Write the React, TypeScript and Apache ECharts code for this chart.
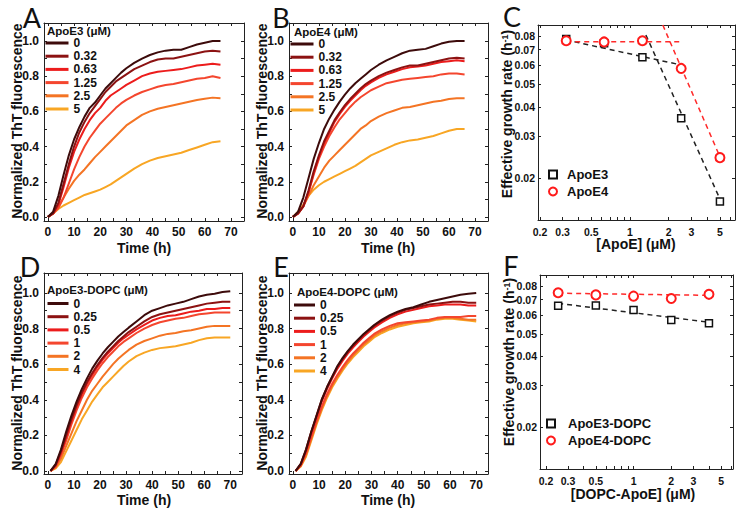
import React, { useEffect, useRef } from 'react';
import * as echarts from 'echarts';

const FONT = '"Liberation Sans", Arial, Helvetica, sans-serif';

// ---------- Time-course data (panels A, B) ----------
const timeAB = [0, 2, 4, 6, 8, 10, 12, 14, 16, 18, 20, 22, 24, 26, 28, 30, 33, 36, 39, 42, 45, 48, 51, 54, 57, 60, 63, 66];
const concAB = ['0', '0.32', '0.63', '1.25', '2.5', '5'];

const A_0 = [0, 0.03, 0.12, 0.24, 0.35, 0.44, 0.51, 0.57, 0.62, 0.65, 0.69, 0.73, 0.76, 0.79, 0.82, 0.845, 0.875, 0.9, 0.92, 0.935, 0.945, 0.95, 0.95, 0.965, 0.98, 0.99, 1.0, 1.0];
const A_032 = [0, 0.02, 0.08, 0.19, 0.3, 0.4, 0.48, 0.54, 0.59, 0.63, 0.67, 0.71, 0.74, 0.77, 0.79, 0.81, 0.84, 0.86, 0.88, 0.895, 0.9, 0.9, 0.91, 0.92, 0.93, 0.94, 0.945, 0.94];
const A_063 = [0, 0.02, 0.07, 0.17, 0.28, 0.37, 0.44, 0.5, 0.55, 0.59, 0.62, 0.66, 0.69, 0.71, 0.73, 0.75, 0.775, 0.8, 0.815, 0.825, 0.83, 0.835, 0.84, 0.85, 0.86, 0.865, 0.87, 0.865];
const A_125 = [0, 0.02, 0.05, 0.11, 0.19, 0.27, 0.34, 0.4, 0.45, 0.49, 0.53, 0.56, 0.59, 0.62, 0.645, 0.665, 0.69, 0.71, 0.725, 0.74, 0.75, 0.755, 0.765, 0.775, 0.785, 0.79, 0.8, 0.79];
const A_25 = [0, 0.02, 0.06, 0.11, 0.16, 0.205, 0.24, 0.27, 0.305, 0.34, 0.37, 0.4, 0.43, 0.46, 0.49, 0.52, 0.55, 0.58, 0.6, 0.615, 0.625, 0.635, 0.645, 0.655, 0.665, 0.672, 0.678, 0.675];
const A_5 = [0, 0.02, 0.045, 0.065, 0.08, 0.095, 0.11, 0.125, 0.135, 0.145, 0.155, 0.17, 0.185, 0.205, 0.225, 0.245, 0.275, 0.3, 0.32, 0.335, 0.345, 0.355, 0.365, 0.38, 0.395, 0.41, 0.425, 0.43];

const B_0 = [0, 0.03, 0.11, 0.22, 0.33, 0.42, 0.5, 0.56, 0.61, 0.655, 0.695, 0.73, 0.76, 0.785, 0.81, 0.835, 0.865, 0.89, 0.91, 0.93, 0.945, 0.95, 0.955, 0.97, 0.985, 0.995, 1.0, 1.0];
const B_032 = [0, 0.02, 0.06, 0.15, 0.26, 0.35, 0.43, 0.49, 0.55, 0.595, 0.635, 0.67, 0.7, 0.73, 0.755, 0.775, 0.8, 0.82, 0.835, 0.85, 0.86, 0.86, 0.87, 0.88, 0.89, 0.9, 0.905, 0.9];
const B_063 = [0, 0.02, 0.06, 0.14, 0.25, 0.34, 0.42, 0.48, 0.54, 0.585, 0.625, 0.66, 0.69, 0.72, 0.745, 0.765, 0.79, 0.81, 0.825, 0.84, 0.85, 0.855, 0.86, 0.87, 0.88, 0.885, 0.89, 0.885];
const B_125 = [0, 0.02, 0.06, 0.14, 0.24, 0.33, 0.4, 0.46, 0.51, 0.555, 0.59, 0.625, 0.655, 0.68, 0.7, 0.72, 0.74, 0.76, 0.77, 0.78, 0.785, 0.79, 0.795, 0.8, 0.81, 0.815, 0.815, 0.81];
const B_25 = [0, 0.02, 0.06, 0.12, 0.18, 0.23, 0.28, 0.32, 0.35, 0.38, 0.41, 0.44, 0.47, 0.5, 0.52, 0.545, 0.57, 0.59, 0.605, 0.62, 0.625, 0.635, 0.645, 0.655, 0.66, 0.67, 0.675, 0.675];
const B_5 = [0, 0.03, 0.07, 0.12, 0.155, 0.18, 0.2, 0.215, 0.23, 0.245, 0.26, 0.275, 0.29, 0.31, 0.33, 0.35, 0.37, 0.39, 0.41, 0.425, 0.435, 0.44, 0.45, 0.46, 0.475, 0.49, 0.5, 0.5];

// ---------- Time-course data (panels D, E) ----------
const timeDE = [1, 3, 5, 7, 9, 11, 13, 15, 17, 19, 21, 23, 25, 27, 29, 31, 34, 37, 40, 43, 46, 49, 52, 55, 58, 61, 64, 67, 70];
const concDE = ['0', '0.25', '0.5', '1', '2', '4'];

const D_0 = [0, 0.04, 0.12, 0.22, 0.31, 0.39, 0.46, 0.52, 0.575, 0.62, 0.66, 0.695, 0.725, 0.755, 0.78, 0.805, 0.84, 0.875, 0.9, 0.915, 0.93, 0.94, 0.95, 0.965, 0.98, 0.99, 0.995, 1.005, 1.01];
const D_025 = [0, 0.035, 0.11, 0.2, 0.29, 0.37, 0.44, 0.5, 0.55, 0.595, 0.635, 0.67, 0.7, 0.73, 0.755, 0.78, 0.81, 0.84, 0.865, 0.88, 0.89, 0.9, 0.91, 0.92, 0.93, 0.94, 0.945, 0.95, 0.95];
const D_05 = [0, 0.03, 0.1, 0.19, 0.28, 0.36, 0.43, 0.49, 0.54, 0.585, 0.625, 0.66, 0.69, 0.72, 0.745, 0.765, 0.795, 0.82, 0.845, 0.86, 0.87, 0.875, 0.885, 0.895, 0.9, 0.91, 0.91, 0.915, 0.915];
const D_1 = [0, 0.025, 0.09, 0.17, 0.26, 0.34, 0.41, 0.47, 0.52, 0.565, 0.605, 0.64, 0.67, 0.7, 0.725, 0.745, 0.775, 0.8, 0.82, 0.835, 0.845, 0.855, 0.86, 0.87, 0.88, 0.885, 0.89, 0.89, 0.89];
const D_2 = [0, 0.02, 0.07, 0.14, 0.21, 0.28, 0.34, 0.4, 0.45, 0.49, 0.53, 0.565, 0.6, 0.63, 0.655, 0.68, 0.71, 0.73, 0.745, 0.76, 0.77, 0.775, 0.785, 0.79, 0.8, 0.81, 0.815, 0.815, 0.815];
const D_4 = [0, 0.015, 0.05, 0.11, 0.17, 0.23, 0.29, 0.34, 0.39, 0.43, 0.47, 0.5, 0.53, 0.56, 0.59, 0.615, 0.645, 0.665, 0.68, 0.69, 0.695, 0.7, 0.71, 0.72, 0.735, 0.745, 0.75, 0.75, 0.75];

const E_0 = [0, 0.04, 0.12, 0.22, 0.31, 0.4, 0.47, 0.53, 0.59, 0.635, 0.675, 0.71, 0.74, 0.77, 0.795, 0.82, 0.85, 0.875, 0.895, 0.91, 0.92, 0.935, 0.95, 0.96, 0.97, 0.98, 0.99, 0.995, 1.0];
const E_025 = [0, 0.04, 0.12, 0.22, 0.31, 0.4, 0.47, 0.53, 0.585, 0.63, 0.67, 0.705, 0.735, 0.765, 0.79, 0.815, 0.845, 0.87, 0.89, 0.905, 0.915, 0.925, 0.935, 0.94, 0.945, 0.95, 0.95, 0.945, 0.945];
const E_05 = [0, 0.035, 0.11, 0.21, 0.3, 0.39, 0.46, 0.52, 0.575, 0.62, 0.66, 0.695, 0.725, 0.755, 0.78, 0.805, 0.835, 0.86, 0.88, 0.895, 0.905, 0.915, 0.925, 0.93, 0.935, 0.935, 0.935, 0.93, 0.93];
const E_1 = [0, 0.03, 0.1, 0.19, 0.28, 0.36, 0.43, 0.49, 0.54, 0.585, 0.625, 0.66, 0.69, 0.72, 0.745, 0.77, 0.795, 0.815, 0.83, 0.835, 0.84, 0.845, 0.85, 0.86, 0.865, 0.865, 0.865, 0.87, 0.87];
const E_2 = [0, 0.03, 0.09, 0.18, 0.27, 0.35, 0.42, 0.48, 0.53, 0.575, 0.615, 0.65, 0.68, 0.71, 0.735, 0.76, 0.785, 0.805, 0.82, 0.83, 0.835, 0.84, 0.845, 0.855, 0.86, 0.86, 0.855, 0.85, 0.85];
const E_4 = [0, 0.025, 0.08, 0.17, 0.26, 0.34, 0.41, 0.47, 0.52, 0.565, 0.605, 0.64, 0.67, 0.7, 0.725, 0.75, 0.775, 0.795, 0.81, 0.82, 0.83, 0.835, 0.84, 0.85, 0.855, 0.855, 0.85, 0.845, 0.84];

const curveColors = ['#3d0b0b', '#8c1212', '#ec1c1c', '#f4462e', '#f47424', '#f8a624'];

// ---------- Growth-rate data (panel C) ----------
const concC_E3 = [0.32, 0.63, 1.25, 2.5, 5];
const rateC_E3 = [0.0777, 0.0745, 0.065, 0.0358, 0.0159];
const concC_E4 = [0.32, 0.63, 1.25, 2.5, 5];
const rateC_E4 = [0.0764, 0.0755, 0.0764, 0.0583, 0.0244];
const fitC_E3_a = [[0.317, 0.077], [2.6, 0.06]];
const fitC_E3_b = [[1.33, 0.0808], [4.9, 0.0167]];
const fitC_E4_a = [[0.32, 0.0757], [2.56, 0.0757]];
const fitC_E4_b = [[1.8, 0.089], [5.0, 0.0246]];

// ---------- Growth-rate data (panel F) ----------
const concF = [0.25, 0.5, 1, 2, 4];
const rateF_E3 = [0.0659, 0.066, 0.0632, 0.0573, 0.0554];
const rateF_E4 = [0.0749, 0.0733, 0.0724, 0.0707, 0.0737];
const fitF_E3 = [[0.25, 0.0675], [4, 0.056]];
const fitF_E4 = [[0.25, 0.0745], [4, 0.073]];

// ---------- Tick values ----------
const timeTicks = [0, 5, 10, 15, 20, 25, 30, 35, 40, 45, 50, 55, 60, 65, 70];
const timeLabels = [0, 10, 20, 30, 40, 50, 60, 70];
const fluoTicks = [0, 0.1, 0.2, 0.3, 0.4, 0.5, 0.6, 0.7, 0.8, 0.9, 1.0];
const fluoLabels = [0, 0.2, 0.4, 0.6, 0.8, 1.0];
const concTicks = [0.2, 0.3, 0.4, 0.5, 0.6, 0.7, 0.8, 0.9, 1, 2, 3, 4, 5, 6];
const concLabels = [0.2, 0.3, 0.5, 1, 2, 3, 5];
const rateTicks = [0.02, 0.03, 0.04, 0.05, 0.06, 0.07, 0.08];
const rateLabels = [0.02, 0.03, 0.04, 0.05, 0.06, 0.07, 0.08];

const lg = (v: number) => Math.log10(v);

type Spec = { min: number; max: number; ticks: number[]; labels: number[]; fmt: (v: number) => string; margin: number; size: number };

function axisPair(gridIndex: number, dim: 'x' | 'y', s: Spec) {
  const common: any = {
    type: 'value',
    gridIndex,
    min: s.min,
    max: s.max,
    splitLine: { show: false },
    axisLine: { show: true, onZero: false, lineStyle: { color: '#222', width: 1 } },
    axisTick: { show: true, inside: true, length: 3, customValues: s.ticks, lineStyle: { color: '#222', width: 1 } },
  };
  const main = {
    ...common,
    position: dim === 'x' ? 'bottom' : 'left',
    axisLabel: {
      show: true,
      customValues: s.labels,
      formatter: s.fmt,
      margin: s.margin,
      fontFamily: FONT,
      fontWeight: 'bold',
      fontSize: s.size,
      color: '#111',
    },
  };
  const mirror = { ...common, position: dim === 'x' ? 'top' : 'right', axisLabel: { show: false } };
  return [main, mirror];
}

const fmtTime = (v: number) => String(Math.round(v));
const fmtFluo = (v: number) => v.toFixed(1);
const fmtConc = (v: number) => {
  const r = Math.pow(10, v);
  return r < 1 ? r.toFixed(1) : String(Math.round(r));
};
const fmtRate = (v: number) => Math.pow(10, v).toFixed(2);

export default function App() {
  const ref = useRef<HTMLDivElement>(null);

  useEffect(() => {
    if (!ref.current) return;
    const chart = echarts.init(ref.current, null, { renderer: 'svg' });

    const grids = [
      { left: 44, top: 23, width: 200, height: 198 },
      { left: 289, top: 23, width: 199, height: 198 },
      { left: 538, top: 25, width: 197, height: 195 },
      { left: 44, top: 273, width: 198, height: 201 },
      { left: 289, top: 273, width: 199, height: 201 },
      { left: 540, top: 275, width: 193, height: 194 },
    ];

    const tAB: Spec = { min: -1.5, max: 75, ticks: timeTicks, labels: timeLabels, fmt: fmtTime, margin: 5, size: 12 };
    const tDE: Spec = { min: -1.5, max: 74.5, ticks: timeTicks, labels: timeLabels, fmt: fmtTime, margin: 5, size: 12 };
    const fAB: Spec = { min: -0.023, max: 1.102, ticks: fluoTicks, labels: fluoLabels, fmt: fmtFluo, margin: 5, size: 12 };
    const fDE: Spec = { min: -0.017, max: 1.112, ticks: fluoTicks, labels: fluoLabels, fmt: fmtFluo, margin: 5, size: 12 };
    const cC: Spec = { min: -0.714, max: 0.816, ticks: concTicks.map(lg), labels: concLabels.map(lg), fmt: fmtConc, margin: 6, size: 10.5 };
    const rC: Spec = { min: -1.877, max: -1.0503, ticks: rateTicks.map(lg), labels: rateLabels.map(lg), fmt: fmtRate, margin: 3, size: 10.5 };
    const cF: Spec = { min: -0.747, max: 0.794, ticks: concTicks.map(lg), labels: concLabels.map(lg), fmt: fmtConc, margin: 6, size: 10.5 };
    const rF: Spec = { min: -1.879, max: -1.0499, ticks: rateTicks.map(lg), labels: rateLabels.map(lg), fmt: fmtRate, margin: 3, size: 10.5 };

    const xSpecs = [tAB, tAB, cC, tDE, tDE, cF];
    const ySpecs = [fAB, fAB, rC, fDE, fDE, rF];
    const xAxis: any[] = [];
    const yAxis: any[] = [];
    xSpecs.forEach((s, i) => xAxis.push(...axisPair(i, 'x', s)));
    ySpecs.forEach((s, i) => yAxis.push(...axisPair(i, 'y', s)));

    const timePanels = [
      { key: 'A', grid: 0, times: timeAB, concs: concAB, values: [A_0, A_032, A_063, A_125, A_25, A_5] },
      { key: 'B', grid: 1, times: timeAB, concs: concAB, values: [B_0, B_032, B_063, B_125, B_25, B_5] },
      { key: 'D', grid: 3, times: timeDE, concs: concDE, values: [D_0, D_025, D_05, D_1, D_2, D_4] },
      { key: 'E', grid: 4, times: timeDE, concs: concDE, values: [E_0, E_025, E_05, E_1, E_2, E_4] },
    ];

    const series: any[] = [];
    timePanels.forEach((p) => {
      p.values.forEach((vals, k) => {
        const color = curveColors[k];
        series.push({
          type: 'line',
          name: `${p.key}|${p.concs[k]}`,
          xAxisIndex: 2 * p.grid,
          yAxisIndex: 2 * p.grid,
          data: p.times.map((t, i) => [t, vals[i]]),
          showSymbol: false,
          symbol: 'none',
          silent: true,
          z: 10 - k,
          lineStyle: { width: 2, color },
          itemStyle: { color },
        });
      });
    });

    const fitLine = (data: number[][], grid: number, color: string) => ({
      type: 'line',
      xAxisIndex: 2 * grid,
      yAxisIndex: 2 * grid,
      data: data.map((d) => [lg(d[0]), lg(d[1])]),
      symbol: 'none',
      silent: true,
      clip: true,
      z: 3,
      lineStyle: { width: 1.5, color, type: [5, 4] },
    });
    const squares = (name: string, xs: number[], ys: number[], grid: number) => ({
      type: 'scatter',
      name,
      xAxisIndex: 2 * grid,
      yAxisIndex: 2 * grid,
      data: xs.map((x, i) => [lg(x), lg(ys[i])]),
      symbol: 'rect',
      symbolSize: 7,
      silent: true,
      z: 4,
      itemStyle: { color: '#ffffff', borderColor: '#111', borderWidth: 1.5, opacity: 1 },
    });
    const circles = (name: string, xs: number[], ys: number[], grid: number) => ({
      type: 'scatter',
      name,
      xAxisIndex: 2 * grid,
      yAxisIndex: 2 * grid,
      data: xs.map((x, i) => [lg(x), lg(ys[i])]),
      symbol: 'circle',
      symbolSize: 9,
      silent: true,
      z: 5,
      itemStyle: { color: '#ffffff', borderColor: '#ff1a1a', borderWidth: 2, opacity: 1 },
    });

    series.push(fitLine(fitC_E3_a, 2, '#222'));
    series.push(fitLine(fitC_E3_b, 2, '#222'));
    series.push(fitLine(fitC_E4_a, 2, '#ff2a2a'));
    series.push(fitLine(fitC_E4_b, 2, '#ff2a2a'));
    series.push(squares('C|ApoE3', concC_E3, rateC_E3, 2));
    series.push(circles('C|ApoE4', concC_E4, rateC_E4, 2));
    series.push(fitLine(fitF_E3, 5, '#222'));
    series.push(fitLine(fitF_E4, 5, '#ff2a2a'));
    series.push(squares('F|ApoE3-DOPC', concF, rateF_E3, 5));
    series.push(circles('F|ApoE4-DOPC', concF, rateF_E4, 5));

    const legendText = { fontFamily: FONT, fontWeight: 'bold', fontSize: 12, color: '#111' };
    const stripName = (n: string) => n.split('|')[1];
    const lineLegend = (p: any, left: number, top: number, itemWidth: number) => ({
      orient: 'vertical',
      left,
      top,
      padding: 0,
      itemGap: 1.2,
      itemWidth,
      itemHeight: 3,
      icon: 'rect',
      selectedMode: false,
      data: p.concs.map((c: string) => `${p.key}|${c}`),
      formatter: stripName,
      textStyle: legendText,
    });
    const squareIcon = 'path://M0,0L10,0L10,10L0,10Z';
    const legend = [
      lineLegend(timePanels[0], 45.5, 37, 23),
      lineLegend(timePanels[1], 290.5, 38, 23),
      lineLegend(timePanels[2], 47.5, 297.5, 21),
      lineLegend(timePanels[3], 294, 299, 21),
      {
        orient: 'vertical', left: 548, top: 168, padding: 0, itemGap: 4, itemWidth: 18, itemHeight: 8,
        selectedMode: false, formatter: stripName, symbolKeepAspect: true,
        data: [{ name: 'C|ApoE3', icon: squareIcon }, { name: 'C|ApoE4' }],
        textStyle: { ...legendText, fontSize: 13 },
      },
      {
        orient: 'vertical', left: 546, top: 417, padding: 0, itemGap: 4, itemWidth: 24, itemHeight: 8,
        selectedMode: false, formatter: stripName, symbolKeepAspect: true,
        data: [{ name: 'F|ApoE3-DOPC', icon: squareIcon }, { name: 'F|ApoE4-DOPC' }],
        textStyle: { ...legendText, fontSize: 13 },
      },
    ];

    const text = (t: string, x: number, y: number, size: number, opts: any = {}) => ({
      type: 'text',
      x,
      y,
      rotation: opts.rotation || 0,
      silent: true,
      style: {
        text: t,
        fill: '#111',
        fontFamily: opts.family || FONT,
        fontWeight: opts.weight || 'bold',
        fontSize: size,
        align: opts.align || 'center',
        verticalAlign: 'middle',
        rich: opts.rich,
      },
    });
    const letterFont = 'Lato, "Open Sans", sans-serif';
    const R = Math.PI / 2;
    const richY = {
      a: { fontFamily: FONT, fontWeight: 'bold', fontSize: 14, fill: '#111' },
      s: { fontFamily: FONT, fontWeight: 'bold', fontSize: 9, fill: '#111', verticalAlign: 'top' },
    };
    const graphic = [
      text('A', 32, 17, 27, { weight: 'normal', family: letterFont }),
      text('B', 281, 17, 27, { weight: 'normal', family: letterFont }),
      text('C', 512, 16, 27, { weight: 'normal', family: letterFont }),
      text('D', 30, 266, 27, { weight: 'normal', family: letterFont }),
      text('E', 281, 266, 27, { weight: 'normal', family: letterFont }),
      text('F', 511, 265, 27, { weight: 'normal', family: letterFont }),
      text('Normalized ThT fluorescence', 17, 121, 14, { rotation: R }),
      text('Normalized ThT fluorescence', 262, 121, 14, { rotation: R }),
      text('Normalized ThT fluorescence', 17, 373, 14, { rotation: R }),
      text('Normalized ThT fluorescence', 262, 373, 14, { rotation: R }),
      text('{a|Effective growth rate (h}{s|-1}{a|)}', 507, 114, 14, { rotation: R, rich: richY }),
      text('{a|Effective growth rate (h}{s|-1}{a|)}', 509, 362, 14, { rotation: R, rich: richY }),
      text('Time (h)', 144, 248, 14),
      text('Time (h)', 388, 248, 14),
      text('Time (h)', 144, 500, 14),
      text('Time (h)', 388, 500, 14),
      text('[ApoE] (μM)', 636, 244, 14),
      text('[DOPC-ApoE] (μM)', 633, 494, 14),
      text('ApoE3 (μM)', 47, 31, 11.5, { align: 'left' }),
      text('ApoE4 (μM)', 294, 32, 11.5, { align: 'left' }),
      text('ApoE3-DOPC (μM)', 47, 289.5, 11.5, { align: 'left' }),
      text('ApoE4-DOPC (μM)', 297, 291.5, 11.5, { align: 'left' }),
    ];

    chart.setOption({
      animation: false,
      backgroundColor: '#ffffff',
      grid: grids.map((g) => ({ ...g, containLabel: false })),
      xAxis,
      yAxis,
      legend,
      series,
      graphic,
    });

    return () => chart.dispose();
  }, []);

  return (
    <div
      ref={ref}
      style={{ position: 'fixed', left: 0, top: 0, width: 743, height: 513, background: '#fff' }}
    />
  );
}
